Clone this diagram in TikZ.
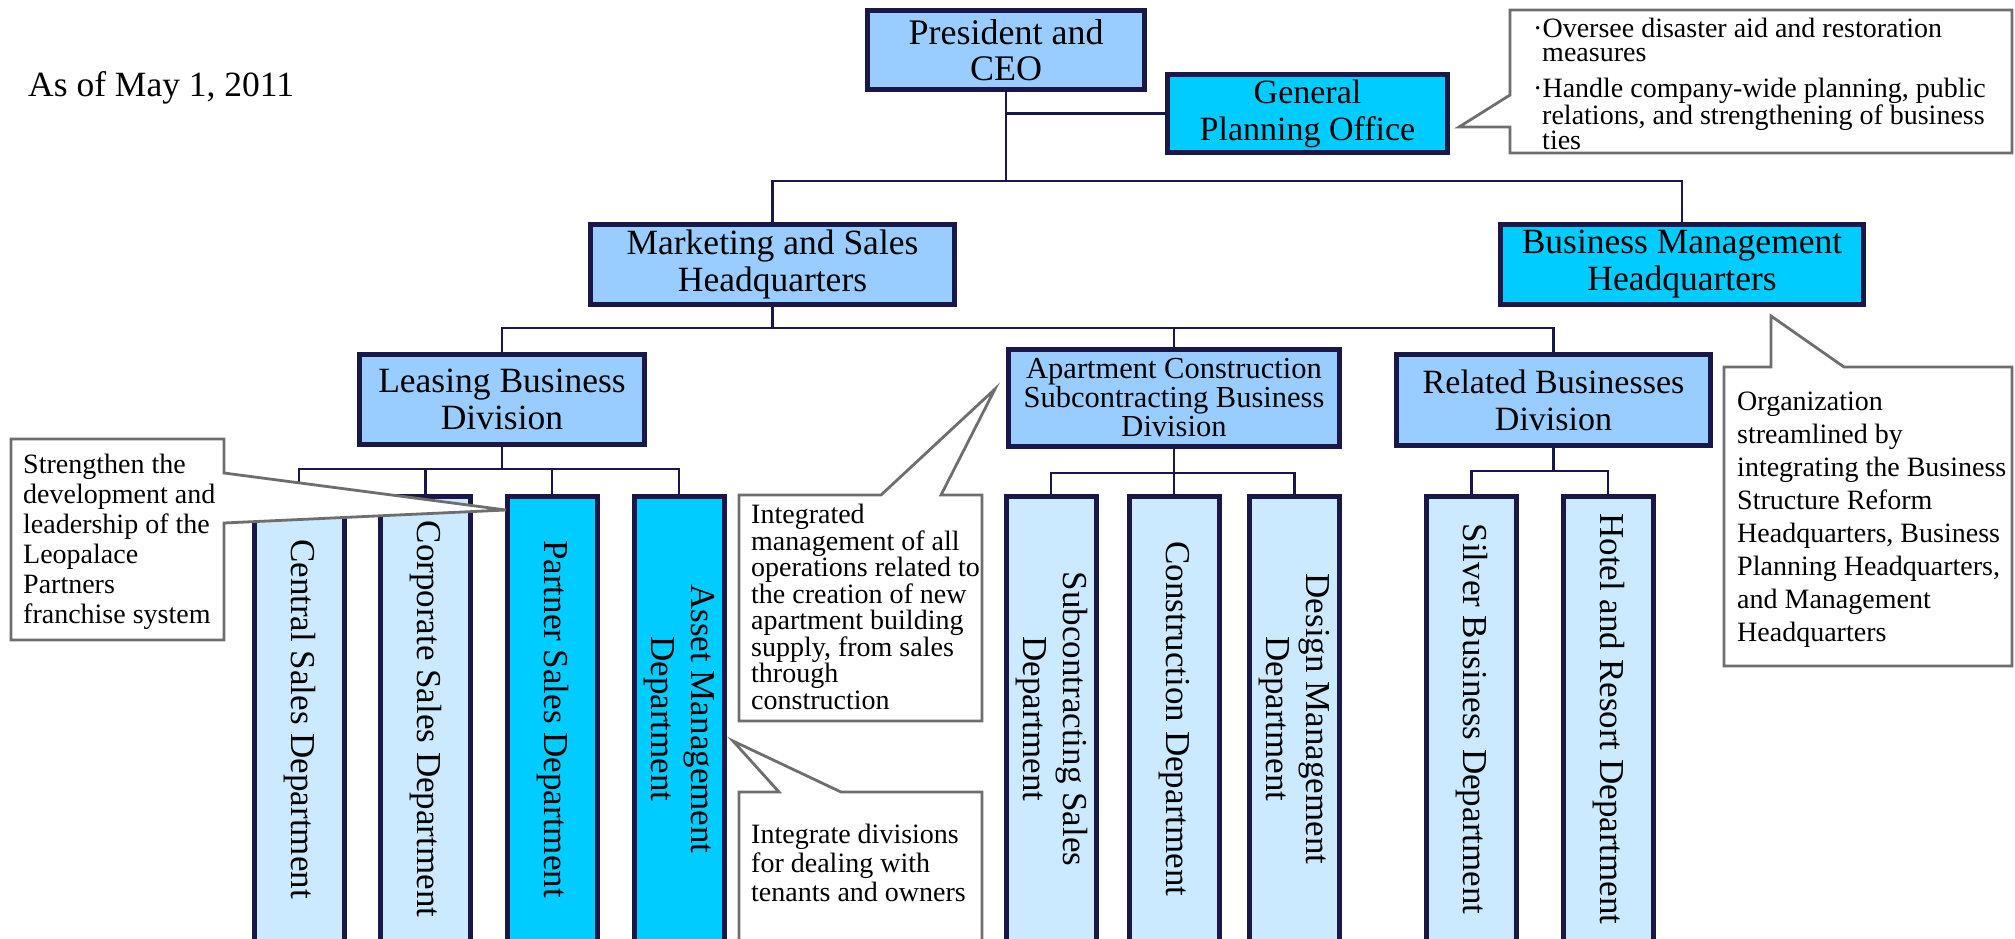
\documentclass[tikz,border=0pt]{standalone}
\usepackage{fontspec}
\setmainfont{Liberation Serif}

\definecolor{navy}{RGB}{26,24,72}
\definecolor{headblue}{RGB}{153,204,255}
\definecolor{newcyan}{RGB}{0,204,255}
\definecolor{deptblue}{RGB}{204,234,255}
\definecolor{notegray}{RGB}{110,110,110}

\newcommand{\vlabel}[1]{\rotatebox{-90}{\begin{tabular}{@{}c@{}}#1\end{tabular}}}

\begin{document}
\begin{tikzpicture}[
  x=1pt, y=-1pt,
  box/.style={draw=navy, line width=5pt, align=center, inner sep=2pt,
    font=\fontsize{35.5}{37}\selectfont},
  bluebox/.style={box, fill=headblue},
  cyanbox/.style={box, fill=newcyan},
  dept/.style={box, fill=deptblue, minimum width=90pt, minimum height=445pt,
    font=\fontsize{35}{40}\selectfont},
  cyandept/.style={dept, fill=newcyan},
  link/.style={draw=navy, line width=2.8pt},
  notebox/.style={draw=notegray, line width=2.8pt, fill=white},
  notetext/.style={anchor=north west, inner sep=0pt, align=left,
    font=\fontsize{28}{30}\selectfont}
]
\useasboundingbox (0,0) rectangle (2015,939);
\clip (0,0) rectangle (2015,939);

\node[anchor=base west, inner sep=0pt, font=\fontsize{35.5}{38}\selectfont] (date) at (28,97)
  {As of May 1, 2011};

% top: president and planning office
\node[bluebox, minimum width=277pt, minimum height=79pt,
  font=\fontsize{36}{36}\selectfont] (pres) at (1006,50)
  {President and\\CEO};
\node[cyanbox, minimum width=280pt, minimum height=78pt,
  font=\fontsize{34}{37}\selectfont] (gpo) at (1307.5,113.5)
  {General\\Planning Office};

% row 2: headquarters
\node[bluebox, minimum width=364pt, minimum height=80pt] (mkt) at (772.5,264.5)
  {Marketing and Sales\\Headquarters};
\node[cyanbox, minimum width=363pt, minimum height=80pt] (bmh) at (1682,264.5)
  {Business Management\\Headquarters};
\draw[link] (gpo.west) -- (gpo.west -| pres.south);
\draw[link] (pres.south) -- ++(0,89) -| (mkt.north);
\draw[link] (pres.south) -- ++(0,89) -| (bmh.north);

% row 3: divisions
\node[bluebox, minimum width=285pt, minimum height=90pt] (lease) at (502,399.5)
  {Leasing Business\\Division};
\node[bluebox, minimum width=331pt, minimum height=97pt,
  font=\fontsize{30.5}{29}\selectfont] (apt) at (1174,398)
  {Apartment Construction\\Subcontracting Business\\Division};
\node[bluebox, minimum width=314pt, minimum height=91pt,
  font=\fontsize{34}{37}\selectfont] (rel) at (1553.5,400)
  {Related Businesses\\Division};
\draw[link] (mkt.south) -- ++(0,21) -| (lease.north);
\draw[link] (mkt.south) -- ++(0,21) -| (apt.north);
\draw[link] (mkt.south) -- ++(0,21) -| (rel.north);

% row 4: departments
\node[dept] (central) at (299,719) {\vlabel{Central Sales Department}};
\node[dept] (corp) at (425.5,719) {\vlabel{Corporate Sales Department}};
\node[cyandept] (partner) at (552,719) {\vlabel{Partner Sales Department}};
\node[cyandept] (asset) at (679,719) {\vlabel{Asset Management\\Department}};
\node[dept] (subc) at (1051,719) {\vlabel{Subcontracting Sales\\Department}};
\node[dept] (constr) at (1174,719) {\vlabel{Construction Department}};
\node[dept] (design) at (1294.5,719) {\vlabel{Design Management\\Department}};
\node[dept] (silver) at (1471.5,719) {\vlabel{Silver Business Department}};
\node[dept] (hotel) at (1608,719) {\vlabel{Hotel and Resort Department}};
\foreach \d in {central,corp,partner,asset}
  \draw[link] (lease.south) -- ++(0,22) -| (\d.north);
\foreach \d in {subc,constr,design}
  \draw[link] (apt.south) -- ++(0,24) -| (\d.north);
\foreach \d in {silver,hotel}
  \draw[link] (rel.south) -- ++(0,23) -| (\d.north);

% notes
\draw[notebox] (1510,10) -- (2012,10) -- (2012,153) -- (1510,153) -- (1510,127)
  -- (1459,127) -- (1510,95) -- cycle;
\node[notetext, font=\fontsize{28}{23.5}\selectfont] (gponote) at (1533,18)
  {\textperiodcentered Oversee disaster aid and restoration\\
   \hspace*{9pt}measures\\[13pt]
   \textperiodcentered Handle company-wide planning, public\\
   \hspace*{9pt}relations, and strengthening of business\\
   \hspace*{9pt}ties};

\draw[notebox] (1724,367) -- (1771,367) -- (1771,316) -- (1844,367) -- (2012,367)
  -- (2012,666) -- (1724,666) -- cycle;
\node[notetext, font=\fontsize{28}{33}\selectfont] (bmhnote) at (1737,392)
  {Organization\\streamlined by\\integrating the Business\\Structure Reform\\
   Headquarters, Business\\Planning Headquarters,\\and Management\\Headquarters};

\draw[notebox] (11,439) -- (224,439) -- (224,473) -- (506,510) -- (224,523)
  -- (224,640) -- (11,640) -- cycle;
\node[notetext] (partnote) at (23,454)
  {Strengthen the\\development and\\leadership of the\\Leopalace\\Partners\\franchise system};

\draw[notebox] (739,495) -- (881,495) -- (995,389) -- (941,495) -- (982,495)
  -- (982,721) -- (739,721) -- cycle;
\node[notetext, font=\fontsize{28}{26.5}\selectfont] (aptnote) at (751,504)
  {Integrated\\management of all\\operations related to\\the creation of new\\
   apartment building\\supply, from sales\\through\\construction};

\draw[notebox] (739,792) -- (779,792) -- (733,741) -- (841,792) -- (982,792)
  -- (982,950) -- (739,950) -- cycle;
\node[notetext, font=\fontsize{28}{29}\selectfont] (assetnote) at (751,824)
  {Integrate divisions\\for dealing with\\tenants and owners};

\end{tikzpicture}
\end{document}
